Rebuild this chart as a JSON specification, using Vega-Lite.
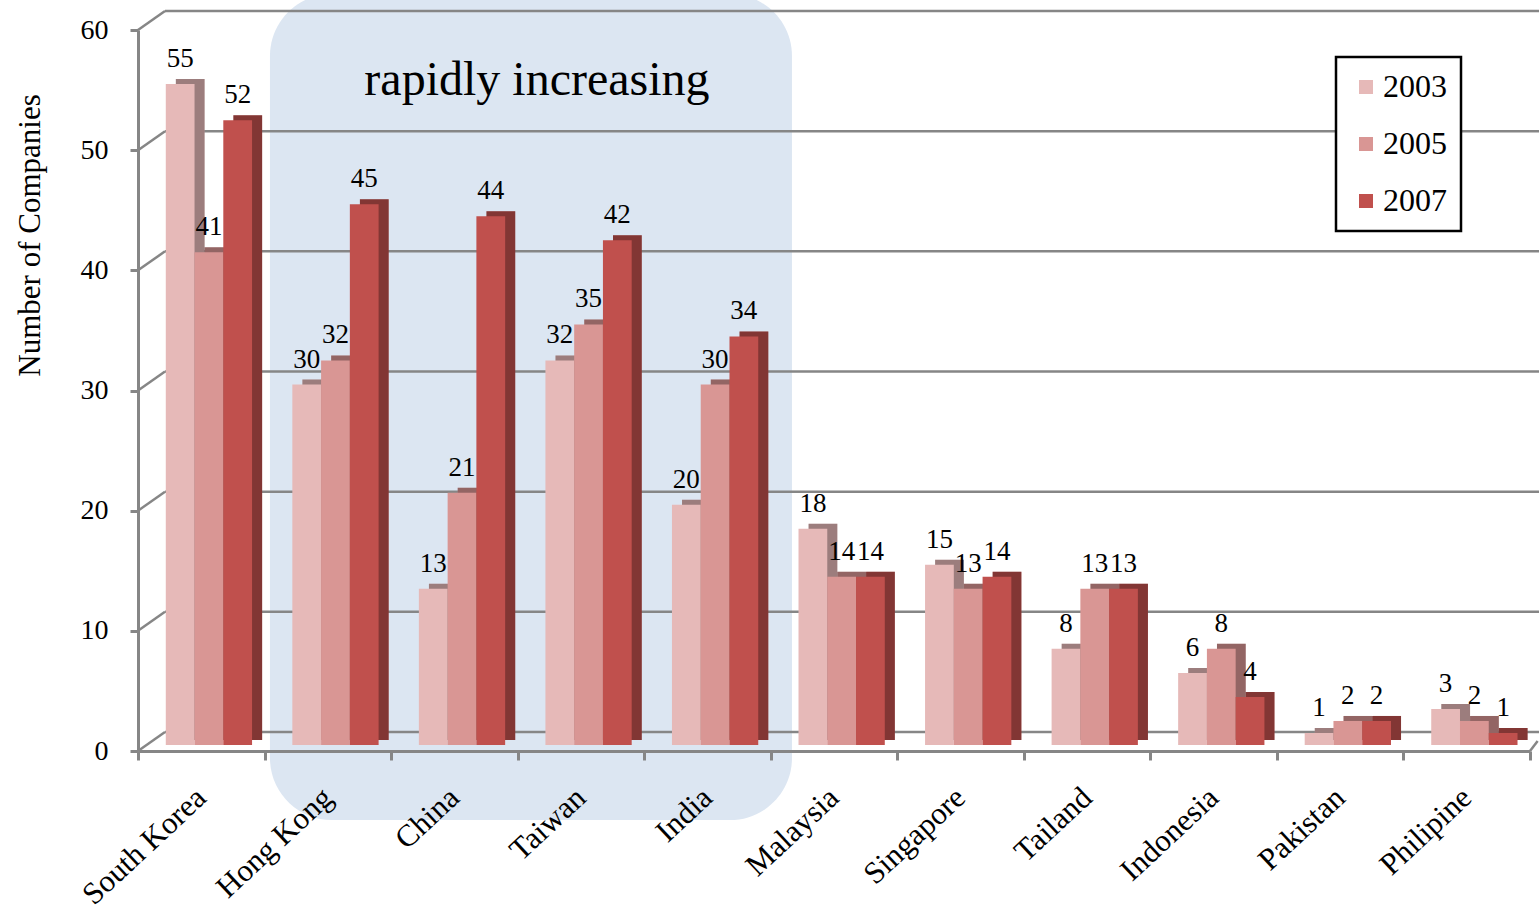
{
  "$schema": "https://vega.github.io/schema/vega-lite/v6.json",
  "width": 1392,
  "height": 721,
  "autosize": {"type": "none"},
  "padding": {"left": 138, "top": 30, "right": 9, "bottom": 162},
  "background": "#ffffff",
  "config": {
    "view": {"stroke": null},
    "font": "Liberation Serif",
    "legend": {"strokeWidth": 2.5}
  },
  "datasets": {
    "companies": [
      {"country": "South Korea", "year": "2003", "count": 55},
      {"country": "South Korea", "year": "2005", "count": 41},
      {"country": "South Korea", "year": "2007", "count": 52},
      {"country": "Hong Kong", "year": "2003", "count": 30},
      {"country": "Hong Kong", "year": "2005", "count": 32},
      {"country": "Hong Kong", "year": "2007", "count": 45},
      {"country": "China", "year": "2003", "count": 13},
      {"country": "China", "year": "2005", "count": 21},
      {"country": "China", "year": "2007", "count": 44},
      {"country": "Taiwan", "year": "2003", "count": 32},
      {"country": "Taiwan", "year": "2005", "count": 35},
      {"country": "Taiwan", "year": "2007", "count": 42},
      {"country": "India", "year": "2003", "count": 20},
      {"country": "India", "year": "2005", "count": 30},
      {"country": "India", "year": "2007", "count": 34},
      {"country": "Malaysia", "year": "2003", "count": 18},
      {"country": "Malaysia", "year": "2005", "count": 14},
      {"country": "Malaysia", "year": "2007", "count": 14},
      {"country": "Singapore", "year": "2003", "count": 15},
      {"country": "Singapore", "year": "2005", "count": 13},
      {"country": "Singapore", "year": "2007", "count": 14},
      {"country": "Tailand", "year": "2003", "count": 8},
      {"country": "Tailand", "year": "2005", "count": 13},
      {"country": "Tailand", "year": "2007", "count": 13},
      {"country": "Indonesia", "year": "2003", "count": 6},
      {"country": "Indonesia", "year": "2005", "count": 8},
      {"country": "Indonesia", "year": "2007", "count": 4},
      {"country": "Pakistan", "year": "2003", "count": 1},
      {"country": "Pakistan", "year": "2005", "count": 2},
      {"country": "Pakistan", "year": "2007", "count": 2},
      {"country": "Philipine", "year": "2003", "count": 3},
      {"country": "Philipine", "year": "2005", "count": 2},
      {"country": "Philipine", "year": "2007", "count": 1}
    ],
    "levels": [{"v": 0}, {"v": 10}, {"v": 20}, {"v": 30}, {"v": 40}, {"v": 50}, {"v": 60}]
  },
  "layer": [
    {
      "layer": [
        {
          "data": {"values": [{}]},
          "mark": {"type": "rect", "cornerRadius": 62, "color": "#DCE6F2"},
          "encoding": {
            "x": {"datum": 9.48, "type": "quantitative", "scale": {"domain": [0, 100], "nice": false}, "axis": null},
            "x2": {"datum": 46.98},
            "y": {"datum": 63, "type": "quantitative", "scale": {"domain": [0, 60], "nice": false}},
            "y2": {"datum": -5.75}
          }
        },
        {
          "data": {"name": "levels"},
          "mark": {"type": "rule", "color": "#868686", "strokeWidth": 2.5, "yOffset": -19},
          "encoding": {
            "x": {"datum": 1.94, "type": "quantitative", "axis": null},
            "x2": {"datum": 100.65},
            "y": {"field": "v", "type": "quantitative"}
          }
        },
        {
          "data": {"name": "levels"},
          "mark": {"type": "rule", "color": "#868686", "strokeWidth": 2.5, "y2Offset": -19},
          "encoding": {
            "x": {"datum": 0, "type": "quantitative", "axis": null},
            "x2": {"datum": 1.94},
            "y": {"field": "v", "type": "quantitative"},
            "y2": {"field": "v"}
          }
        },
        {
          "data": {"values": [{}]},
          "mark": {"type": "rule", "color": "#868686", "strokeWidth": 2.5, "y2Offset": -10},
          "encoding": {
            "x": {"datum": 100, "type": "quantitative", "axis": null},
            "x2": {"datum": 100.55},
            "y": {"datum": 0, "type": "quantitative"},
            "y2": {"datum": 0}
          }
        },
        {
          "data": {"values": [{}]},
          "mark": {"type": "text", "font": "Liberation Serif", "fontSize": 48, "align": "center", "baseline": "alphabetic", "color": "#000000"},
          "encoding": {
            "x": {"datum": 28.66, "type": "quantitative", "axis": null},
            "y": {"datum": 54.6, "type": "quantitative"},
            "text": {"value": "rapidly increasing"}
          }
        }
      ]
    },
    {
      "data": {"name": "companies"},
      "encoding": {
        "x": {
          "field": "country",
          "type": "nominal",
          "sort": null,
          "scale": {"paddingInner": 0, "paddingOuter": 0},
          "axis": {
            "orient": "bottom",
            "zindex": 1,
            "title": null,
            "tickBand": "extent",
            "domainColor": "#868686",
            "domainWidth": 3,
            "tickColor": "#868686",
            "tickWidth": 3,
            "tickSize": 9,
            "labelAngle": -43,
            "labelAlign": "right",
            "labelBaseline": "middle",
            "labelPadding": 33,
            "labelFont": "Liberation Serif",
            "labelFontSize": 31,
            "labelColor": "#000000",
            "labelLimit": 400
          }
        }
      },
      "layer": [
        {
          "mark": {"type": "bar", "yOffset": -11, "y2Offset": -7},
          "encoding": {
            "xOffset": {
              "field": "year",
              "type": "nominal",
              "sort": null,
              "scale": {"type": "band", "paddingInner": 0, "paddingOuter": 0.7, "align": 0.94}
            },
            "y": {"field": "count", "type": "quantitative", "scale": {"domain": [0, 60], "nice": false}},
            "color": {"field": "year", "type": "nominal"}
          }
        },
        {
          "mark": {"type": "bar", "yOffset": -11, "y2Offset": -7, "color": "#000000", "opacity": 0.32},
          "encoding": {
            "xOffset": {
              "field": "year",
              "type": "nominal",
              "sort": null,
              "scale": {"type": "band", "paddingInner": 0, "paddingOuter": 0.7, "align": 0.94}
            },
            "y": {"field": "count", "type": "quantitative"}
          }
        },
        {
          "mark": {"type": "bar", "yOffset": -6, "y2Offset": -6},
          "encoding": {
            "xOffset": {
              "field": "year",
              "type": "nominal",
              "sort": null,
              "scale": {"type": "band", "paddingInner": 0, "paddingOuter": 0.7, "align": 0.69}
            },
            "y": {
              "field": "count",
              "type": "quantitative",
              "scale": {"domain": [0, 60], "nice": false},
              "axis": {
                "orient": "left",
                "zindex": 1,
                "values": [0, 10, 20, 30, 40, 50, 60],
                "grid": false,
                "domainColor": "#868686",
                "domainWidth": 3,
                "tickColor": "#868686",
                "tickWidth": 3,
                "tickSize": 8,
                "labelPadding": 22,
                "labelFont": "Liberation Serif",
                "labelFontSize": 28,
                "labelColor": "#000000",
                "title": "Number of Companies",
                "titleFont": "Liberation Serif",
                "titleFontSize": 31,
                "titleFontWeight": "normal",
                "titleColor": "#000000",
                "titleAngle": -90,
                "titleAlign": "center",
                "titleBaseline": "middle",
                "titleX": -108,
                "titleY": 205
              }
            },
            "color": {
              "field": "year",
              "type": "nominal",
              "scale": {"domain": ["2003", "2005", "2007"], "range": ["#E6B9B8", "#D99694", "#C0504D"]},
              "legend": {
                "title": null,
                "orient": "none",
                "legendX": 1198,
                "legendY": 27,
                "padding": 14,
                "symbolOffset": 0,
                "symbolType": "square",
                "symbolSize": 196,
                "symbolStrokeWidth": 0,
                "labelFont": "Liberation Serif",
                "labelFontSize": 32,
                "labelColor": "#000000",
                "labelOffset": 1,
                "rowPadding": 25,
                "strokeColor": "#000000",
                "fillColor": "#ffffff"
              }
            }
          }
        },
        {
          "mark": {"type": "text", "dy": -23, "font": "Liberation Serif", "fontSize": 27, "align": "center", "baseline": "alphabetic", "color": "#000000"},
          "encoding": {
            "xOffset": {
              "field": "year",
              "type": "nominal",
              "sort": null,
              "scale": {"type": "band", "paddingInner": 0, "paddingOuter": 0.7, "align": 0.69}
            },
            "y": {"field": "count", "type": "quantitative"},
            "text": {"field": "count", "type": "quantitative"}
          }
        }
      ],
      "resolve": {"scale": {"xOffset": "independent"}}
    }
  ],
  "resolve": {"scale": {"x": "independent"}}
}
